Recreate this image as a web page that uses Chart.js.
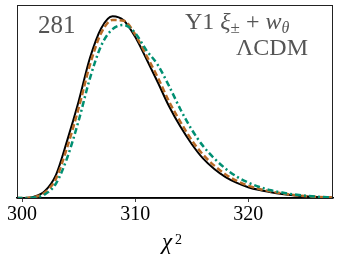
<!DOCTYPE html>
<html>
<head>
<meta charset="utf-8">
<script src="https://cdn.jsdelivr.net/npm/chart.js@4.4.0/dist/chart.umd.min.js"></script>
<style>
  html, body { margin: 0; padding: 0; background: #fff; }
  #wrap { width: 340px; height: 262px; position: relative; }
</style>
</head>
<body>
<div id="wrap"><canvas id="chi2Chart"></canvas></div>
<script>
// chi^2 grid and curve heights
const chi2 = [299.5, 300, 301, 302, 303, 304, 305, 306, 307, 308, 309, 310, 311, 312, 313, 314,
              315, 316, 317, 318, 319, 320, 321, 322, 323, 324, 325, 326, 327, 328];
const blackSolid = [0, 0, 0.006, 0.035, 0.12, 0.30, 0.50, 0.725, 0.88, 0.942, 0.92, 0.835, 0.72, 0.60, 0.475, 0.37,
                    0.28, 0.205, 0.15, 0.108, 0.078, 0.056, 0.041, 0.030, 0.021, 0.014, 0.009, 0.005, 0.003, 0.002];
const orangeDashed = [0, 0, 0.004, 0.028, 0.10, 0.265, 0.465, 0.69, 0.855, 0.922, 0.918, 0.848, 0.738, 0.625, 0.50, 0.395,
                      0.30, 0.225, 0.168, 0.122, 0.089, 0.064, 0.047, 0.034, 0.024, 0.016, 0.010, 0.006, 0.0035, 0.002];
const tealDashDot = [0, 0, 0.002, 0.018, 0.075, 0.21, 0.40, 0.62, 0.79, 0.875, 0.896, 0.855, 0.765, 0.69, 0.58, 0.46,
                     0.355, 0.27, 0.205, 0.152, 0.11, 0.08, 0.057, 0.040, 0.028, 0.019, 0.012, 0.007, 0.004, 0.002];
const xTicks = [300, 310, 320];

const toPoints = (ys) => ys.map((y, i) => ({ x: chi2[i], y: y }));

const SERIF = '"Liberation Serif", serif';

// frame around the plot area, the text labels and the axis title
const framePlugin = {
    id: 'frame',
    afterDraw(chart) {
        const { ctx, chartArea: a } = chart;
        ctx.save();
        ctx.strokeStyle = '#222';
        ctx.lineWidth = 1;
        ctx.strokeRect(a.left + 0.5, a.top + 0.5, a.right - a.left - 1, a.bottom - a.top);

        ctx.fillStyle = '#555';
        ctx.textBaseline = 'alphabetic';
        ctx.font = '25px ' + SERIF;
        ctx.textAlign = 'left';
        ctx.fillText('281', 38, 33);

        ctx.textAlign = 'right';
        ctx.font = '24px ' + SERIF;
        ctx.fillText('\u039BCDM', 308, 55);

        // "Y1 ξ± + wθ" built from pieces
        let x = 185;
        const base = 29;
        ctx.textAlign = 'left';
        ctx.font = '24px ' + SERIF;
        ctx.fillText('Y1 ', x, base); x += ctx.measureText('Y1 ').width;
        ctx.font = 'italic 24px ' + SERIF;
        ctx.fillText('\u03BE', x, base); x += ctx.measureText('\u03BE').width;
        ctx.font = '17px ' + SERIF;
        ctx.fillText('\u00B1', x, base + 4); x += ctx.measureText('\u00B1').width;
        ctx.font = '24px ' + SERIF;
        ctx.fillText(' + ', x, base); x += ctx.measureText(' + ').width;
        ctx.font = 'italic 24px ' + SERIF;
        ctx.fillText('w', x, base); x += ctx.measureText('w').width;
        ctx.font = 'italic 16px ' + SERIF;
        ctx.fillText('\u03B8', x, base + 4);

        // x-axis title: chi^2
        ctx.fillStyle = '#000';
        ctx.font = 'italic 23px ' + SERIF;
        ctx.fillText('\u03C7', 162, 249);
        ctx.font = '14px ' + SERIF;
        ctx.fillText('2', 175, 244);
        ctx.restore();
    }
};

new Chart(document.getElementById('chi2Chart'), {
    type: 'line',
    data: {
        datasets: [
            {
                data: toPoints(blackSolid),
                borderColor: '#000',
                borderWidth: 2,
                order: 3
            },
            {
                data: toPoints(orangeDashed),
                borderColor: '#b86a26',
                borderWidth: 2.5,
                borderDash: [6, 3],
                order: 2
            },
            {
                data: toPoints(tealDashDot),
                borderColor: '#008f72',
                borderWidth: 2.5,
                borderDash: [6, 3, 2, 3],
                order: 1
            }
        ]
    },
    options: {
        responsive: true,
        maintainAspectRatio: false,
        animation: false,
        layout: { padding: { left: 17, right: 7, top: 5, bottom: 0 } },
        elements: {
            point: { radius: 0 },
            line: { cubicInterpolationMode: 'monotone', fill: false }
        },
        plugins: {
            legend: { display: false },
            tooltip: { enabled: false }
        },
        scales: {
            x: {
                type: 'linear',
                min: 299.55,
                max: 327.5,
                afterBuildTicks: (scale) => {
                    scale.ticks = xTicks.map(v => ({ value: v }));
                },
                afterFit: (scale) => { scale.height = 64; },
                grid: {
                    drawOnChartArea: false,
                    drawTicks: true,
                    tickLength: 4,
                    color: '#444'
                },
                border: { display: true, color: '#000', width: 1.5 },
                ticks: {
                    color: '#000',
                    padding: 1,
                    maxRotation: 0,
                    font: { family: SERIF, size: 20 }
                },
                title: { display: false }
            },
            y: {
                display: false,
                min: 0,
                max: 1
            }
        }
    },
    plugins: [framePlugin]
});
</script>
</body>
</html>
